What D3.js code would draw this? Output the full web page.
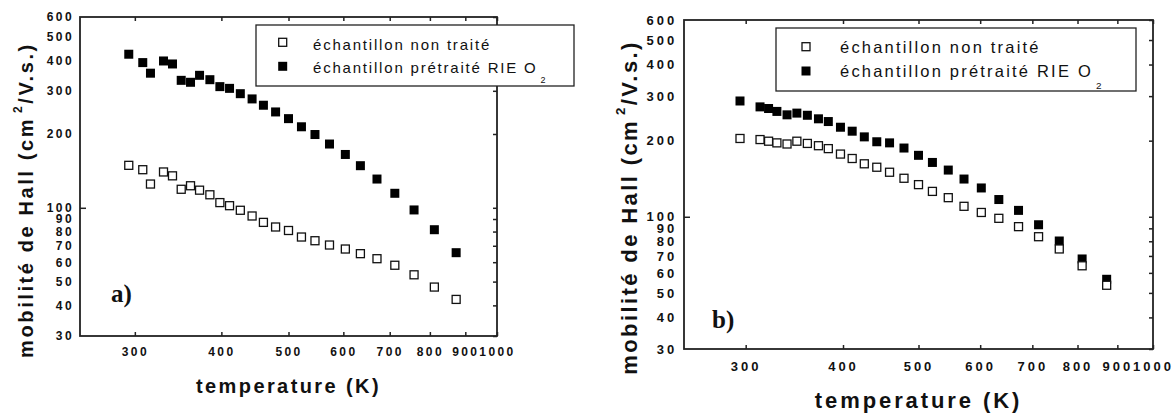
<!DOCTYPE html>
<html>
<head>
<meta charset="utf-8">
<script src="https://cdn.jsdelivr.net/npm/d3@7"></script>
<style>
body { margin: 0; background: #fff; }
svg text { font-family: Arial, "Liberation Sans", sans-serif; fill: #111; }
</style>
</head>
<body>
<svg id="chart" width="1176" height="414"></svg>
<script>
const tempA = [294, 308, 316, 330, 340, 350, 361, 372, 385, 398, 411, 426, 443, 460, 479, 500, 522, 546, 573, 604, 635, 671, 712, 759, 812, 873];
const untreatedA = [149, 143, 125, 140, 135, 119, 123, 118, 113, 105, 102, 97.7, 92.6, 87.2, 83.5, 80.8, 76, 73.4, 70.5, 67.9, 65, 62, 58.3, 53.3, 47.5, 42.3];
const treatedA = [423, 391, 354, 397, 386, 331, 325, 347, 333, 312, 307, 292, 278, 262, 246, 231, 214, 199, 182, 165, 148.5, 131, 114.6, 98, 81.4, 65.6];

const tempB = [295, 313, 321, 329, 339, 349, 360, 372, 383, 397, 411, 426, 442, 459, 479, 500, 521, 546, 572, 602, 634, 672, 713, 758, 811, 872];
const untreatedB = [204, 202, 199, 196, 194, 199, 195, 191, 186, 177, 170, 162, 157, 150, 142, 134, 126, 119, 110, 104, 98.6, 91.4, 83.4, 74.6, 64, 53.6];
const treatedB = [287, 272, 268, 261, 253, 257, 252, 244, 238, 226, 218, 207, 198, 196, 187, 175, 164, 153, 141, 130, 117, 106, 93, 80.2, 68.1, 56.6];

const xTicks = [300, 400, 500, 600, 700, 800, 900, 1000];
const yTicks = [30, 40, 50, 60, 70, 80, 90, 100, 200, 300, 400, 500, 600];
const yLeftTicks = [100];
const legendLabels = ['échantillon non traité', 'échantillon prétraité RIE O'];

const svg = d3.select('#chart');

function drawPanel(p) {
    const x = d3.scaleLog().domain([250, 1000]).range([p.left, p.right]);
    const y = d3.scaleLog().domain([30, 600]).range([p.bottom, p.top]);
    const g = svg.append('g');
    const fmt = d3.format('d');

    // cadre
    g.append('rect')
        .attr('x', p.left).attr('y', p.top)
        .attr('width', p.right - p.left).attr('height', p.bottom - p.top)
        .attr('fill', 'none').attr('stroke', '#222').attr('stroke-width', 1.8);

    // axe du bas avec les étiquettes
    const bottom = g.append('g')
        .attr('transform', `translate(0,${p.bottom})`)
        .call(d3.axisBottom(x).tickValues(xTicks).tickFormat(fmt).tickSize(-4).tickPadding(p.xPad));
    const top = g.append('g')
        .attr('transform', `translate(0,${p.top})`)
        .call(d3.axisTop(x).tickValues(xTicks).tickFormat('').tickSize(-4));
    const left = g.append('g')
        .attr('transform', `translate(${p.left},0)`)
        .call(d3.axisLeft(y).tickValues(yTicks).tickFormat(fmt).tickSize(0).tickPadding(p.yPad));
    const leftTicks = g.append('g')
        .attr('transform', `translate(${p.left},0)`)
        .call(d3.axisLeft(y).tickValues(yLeftTicks).tickFormat('').tickSize(-6));
    const right = g.append('g')
        .attr('transform', `translate(${p.right},0)`)
        .call(d3.axisRight(y).tickValues(yTicks).tickFormat('').tickSize(-4));

    [bottom, top, left, leftTicks, right].forEach(a => {
        a.select('.domain').remove();
        a.selectAll('line').attr('stroke', '#222').attr('stroke-width', 1.5);
        a.selectAll('text')
            .style('font-family', 'Arial, "Liberation Sans", sans-serif')
            .style('font-weight', 'bold')
            .style('font-size', p.tickFont + 'px')
            .style('letter-spacing', p.tickSpacing + 'px')
            .attr('fill', '#111');
    });

    // points : pleins d'abord, puis ouverts par-dessus
    g.selectAll('.filled')
        .data(p.temps.map((t, i) => [t, p.treated[i]]))
        .enter()
        .append('rect')
        .attr('x', d => x(d[0]) - 4.5)
        .attr('y', d => y(d[1]) - 4.5)
        .attr('width', 9).attr('height', 9)
        .attr('fill', '#000');

    g.selectAll('.open')
        .data(p.temps.map((t, i) => [t, p.untreated[i]]))
        .enter()
        .append('rect')
        .attr('x', d => x(d[0]) - 4)
        .attr('y', d => y(d[1]) - 4)
        .attr('width', 8).attr('height', 8)
        .attr('fill', '#fff')
        .attr('stroke', '#111').attr('stroke-width', 1.3);

    // titre axe x
    g.append('text')
        .attr('x', (p.left + p.right) / 2).attr('y', p.xTitleY)
        .attr('text-anchor', 'middle')
        .style('font-weight', 'bold')
        .style('font-size', p.titleFont + 'px')
        .style('letter-spacing', p.xTitleSpacing + 'px')
        .text('temperature (K)');

    // titre axe y
    const yt = g.append('text')
        .attr('transform', `translate(${p.yTitleX},${p.yTitleY}) rotate(-90)`)
        .attr('text-anchor', 'middle')
        .style('font-weight', 'bold')
        .style('font-size', p.titleFont + 'px')
        .style('letter-spacing', p.yTitleSpacing + 'px');
    yt.append('tspan').text('mobilité de Hall (cm');
    yt.append('tspan').attr('dx', 4).attr('dy', -p.titleFont * 0.55)
        .style('font-size', (p.titleFont * 0.6) + 'px').text('2');
    yt.append('tspan').attr('dy', p.titleFont * 0.55).text('/V.s.)');

    // légende
    const lg = g.append('g');
    lg.append('rect')
        .attr('x', p.legend.x0).attr('y', p.legend.y0)
        .attr('width', p.legend.x1 - p.legend.x0).attr('height', p.legend.y1 - p.legend.y0)
        .attr('fill', '#fff').attr('stroke', '#222').attr('stroke-width', 1.3);
    lg.append('rect')
        .attr('x', p.legend.mx - 4).attr('y', p.legend.my[0] - 4)
        .attr('width', 8).attr('height', 8)
        .attr('fill', '#fff').attr('stroke', '#111').attr('stroke-width', 1.3);
    lg.append('rect')
        .attr('x', p.legend.mx - 4.5).attr('y', p.legend.my[1] - 4.5)
        .attr('width', 9).attr('height', 9)
        .attr('fill', '#000');
    legendLabels.forEach((lab, i) => {
        const t = lg.append('text')
            .attr('x', p.legend.tx).attr('y', p.legend.ty[i])
            .style('font-size', p.legendFont + 'px')
            .style('letter-spacing', p.legendSpacing + 'px');
        t.append('tspan').text(lab);
        if (i === 1) {
            t.append('tspan').attr('dx', 3).attr('dy', p.legendFont * 0.7)
                .style('font-size', (p.legendFont * 0.6) + 'px').text('2');
        }
    });

    // lettre du panneau
    g.append('text')
        .attr('x', p.tag.x).attr('y', p.tag.y)
        .style('font-family', '"Liberation Serif", "Times New Roman", serif')
        .style('font-weight', 'bold')
        .style('font-size', '25px')
        .text(p.tag.text);
}

drawPanel({
    left: 80, right: 497, top: 17, bottom: 336,
    temps: tempA, untreated: untreatedA, treated: treatedA,
    tickFont: 12, tickSpacing: 2.4, xPad: 11.5, yPad: 6,
    titleFont: 20, xTitleY: 393, xTitleSpacing: 2.4,
    yTitleX: 33, yTitleY: 200, yTitleSpacing: 2.6,
    legend: { x0: 256, y0: 25, x1: 574, y1: 86, mx: 282.7, my: [42.3, 66.3], tx: 313, ty: [50, 72.5] },
    legendFont: 15, legendSpacing: 1.8,
    tag: { x: 111, y: 302, text: 'a)' }
});

drawPanel({
    left: 684, right: 1153, top: 20, bottom: 349,
    temps: tempB, untreated: untreatedB, treated: treatedB,
    tickFont: 13, tickSpacing: 3, xPad: 12.8, yPad: 6.7,
    titleFont: 22, xTitleY: 408, xTitleSpacing: 2.9,
    yTitleX: 637, yTitleY: 207.5, yTitleSpacing: 2.4,
    legend: { x0: 776, y0: 28, x1: 1136, y1: 91, mx: 806, my: [46.7, 71], tx: 840, ty: [53, 77] },
    legendFont: 16.5, legendSpacing: 2.2,
    tag: { x: 712, y: 328, text: 'b)' }
});
</script>
</body>
</html>
